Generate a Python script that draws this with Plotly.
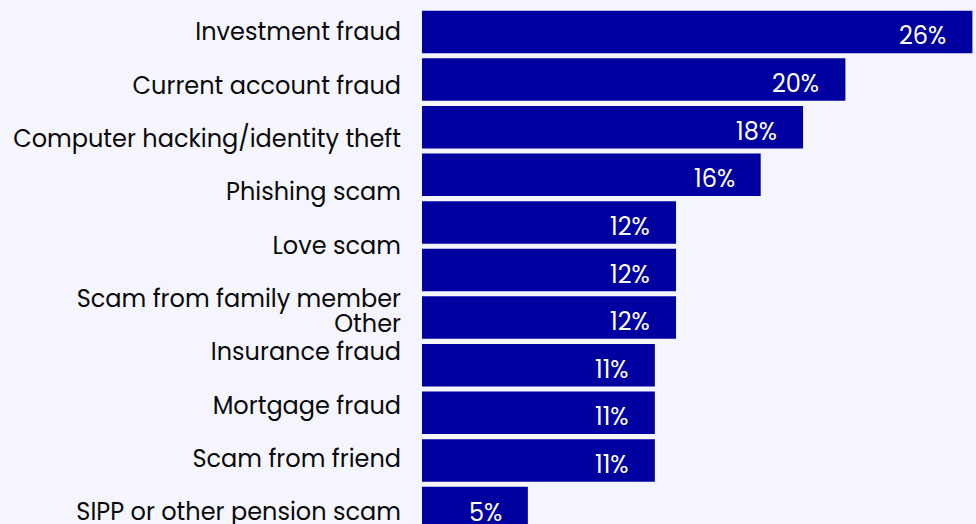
import plotly.graph_objects as go

categories = [
    "Investment fraud",
    "Current account fraud",
    "Computer hacking/identity theft",
    "Phishing scam",
    "Love scam",
    "Scam from family member",
    "Other",
    "Insurance fraud",
    "Mortgage fraud",
    "Scam from friend",
    "SIPP or other pension scam",
]
values = [26, 20, 18, 16, 12, 12, 12, 11, 11, 11, 5]
value_labels = [f"{v}%" for v in values]

# label slots used by the category text column (labels are spaced on their own grid)
label_slots = [0, 1, 2, 3, 4, 5, 5.47, 6, 7, 8, 9]

BAR = "#0000A0"
BG = "#F5F5FE"
FONT = "Poppins, Open Sans, sans-serif"
FS = 24

fig = go.Figure()
fig.add_trace(go.Bar(
    x=values, y=categories, orientation="h",
    marker=dict(color=BAR, line=dict(width=0)),
    width=0.893,
    hoverinfo="skip",
    showlegend=False,
))
# invisible trace to carry the label axis
fig.add_trace(go.Scatter(
    x=[0] * len(label_slots), y=label_slots, yaxis="y2",
    mode="markers", marker=dict(opacity=0), showlegend=False, hoverinfo="skip",
))

annotations = []
for c, v, t in zip(categories, values, value_labels):
    annotations.append(dict(
        x=v, y=c, xref="x", yref="y", text=t, showarrow=False,
        xanchor="right", yanchor="middle", xshift=-24, yshift=-4,
        font=dict(family=FONT, size=FS, color="white"),
    ))

fig.update_layout(
    width=976, height=524,
    margin=dict(l=422, r=0, t=0, b=0, autoexpand=False),
    paper_bgcolor=BG, plot_bgcolor=BG,
    xaxis=dict(range=[0, 26.17], visible=False, fixedrange=True, automargin=False),
    yaxis=dict(
        type="category", categoryorder="array", categoryarray=categories,
        range=[10.336, -0.672], showticklabels=False, showgrid=False,
        zeroline=False, showline=False, ticks="", automargin=False,
    ),
    yaxis2=dict(
        overlaying="y", side="left", range=[9.225, -0.6],
        tickvals=label_slots, ticktext=categories,
        showgrid=False, zeroline=False, showline=False, ticks="",
        ticklabelstandoff=20, ticklabeloverflow="allow", automargin=False,
        tickfont=dict(family=FONT, size=FS, color="#0A0A0A"),
    ),
    annotations=annotations,
)

fig.write_html(
    "out.html",
    config={"displayModeBar": False},
    post_script="document.body.style.margin='0';document.body.style.background='" + BG + "';",
)
